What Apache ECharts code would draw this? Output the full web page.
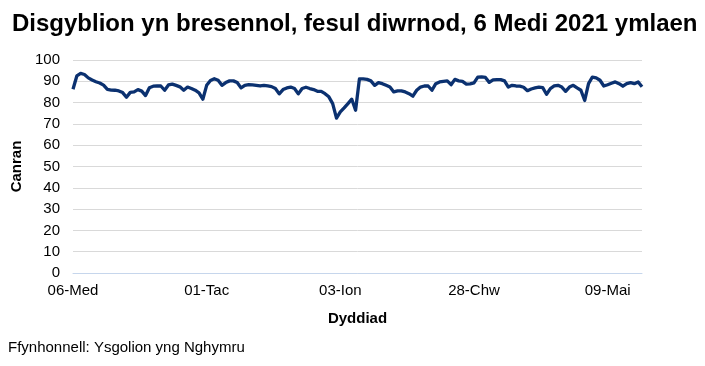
<!DOCTYPE html>
<html>
<head>
<meta charset="utf-8">
<script src="https://cdn.jsdelivr.net/npm/echarts@6/dist/echarts.min.js"></script>
<style>
html,body{margin:0;padding:0;background:#fff;}
#chart{width:705px;height:366px;}
</style>
</head>
<body>
<div id="chart"></div>
<script>
var categories = [
 '06-Med','07-Med','08-Med','09-Med','10-Med',
 '13-Med','14-Med','15-Med','16-Med','17-Med',
 '20-Med','21-Med','22-Med','23-Med','24-Med',
 '27-Med','28-Med','29-Med','30-Med','01-Hyd',
 '04-Hyd','05-Hyd','06-Hyd','07-Hyd','08-Hyd',
 '11-Hyd','12-Hyd','13-Hyd','14-Hyd','15-Hyd',
 '18-Hyd','19-Hyd','20-Hyd','21-Hyd','22-Hyd',
 '01-Tac','02-Tac','03-Tac','04-Tac','05-Tac',
 '08-Tac','09-Tac','10-Tac','11-Tac','12-Tac',
 '15-Tac','16-Tac','17-Tac','18-Tac','19-Tac',
 '22-Tac','23-Tac','24-Tac','25-Tac','26-Tac',
 '29-Tac','30-Tac','01-Rha','02-Rha','03-Rha',
 '06-Rha','07-Rha','08-Rha','09-Rha','10-Rha',
 '13-Rha','14-Rha','15-Rha','16-Rha','17-Rha',
 '03-Ion','04-Ion','05-Ion','06-Ion','07-Ion',
 '10-Ion','11-Ion','12-Ion','13-Ion','14-Ion',
 '17-Ion','18-Ion','19-Ion','20-Ion','21-Ion',
 '24-Ion','25-Ion','26-Ion','27-Ion','28-Ion',
 '31-Ion','01-Chw','02-Chw','03-Chw','04-Chw',
 '07-Chw','08-Chw','09-Chw','10-Chw','11-Chw',
 '14-Chw','15-Chw','16-Chw','17-Chw','18-Chw',
 '28-Chw','01-Maw','02-Maw','03-Maw','04-Maw',
 '07-Maw','08-Maw','09-Maw','10-Maw','11-Maw',
 '14-Maw','15-Maw','16-Maw','17-Maw','18-Maw',
 '21-Maw','22-Maw','23-Maw','24-Maw','25-Maw',
 '28-Maw','29-Maw','30-Maw','31-Maw','01-Ebr',
 '04-Ebr','05-Ebr','06-Ebr','07-Ebr','08-Ebr',
 '25-Ebr','26-Ebr','27-Ebr','28-Ebr','29-Ebr',
 '09-Mai','10-Mai','11-Mai','12-Mai','13-Mai',
 '16-Mai','17-Mai','18-Mai','19-Mai','20-Mai'
];

var attendance = [
 86.3, 92.5, 93.7, 93.2, 91.6,
 90.6, 89.8, 89.2, 88.2, 86.2,
 85.9, 85.8, 85.5, 84.7, 82.5,
 84.8, 85.0, 86.1, 85.4, 83.3,
 87.0, 87.7, 87.8, 87.8, 85.8,
 88.3, 88.7, 88.1, 87.4, 85.8,
 87.3, 86.6, 85.8, 84.6, 81.6,
 88.1, 90.4, 91.2, 90.5, 88.1,
 89.4, 90.2, 90.2, 89.4, 86.9,
 88.1, 88.4, 88.3, 88.1, 87.8,
 88.1, 87.8, 87.5, 86.6, 84.1,
 86.1, 86.9, 87.3, 86.6, 84.1,
 86.6, 87.2, 86.6, 86.1, 85.3,
 85.3, 84.2, 82.7, 79.5, 72.7,
 75.6, 77.5, 79.5, 81.6, 76.4,
 91.1, 91.1, 90.9, 90.2, 88.1,
 89.4, 88.9, 88.1, 87.3, 85.0,
 85.5, 85.5, 85.0, 84.2, 83.0,
 85.8, 87.3, 87.8, 87.8, 85.8,
 88.9, 89.7, 90.0, 90.2, 88.4,
 90.9, 90.2, 90.0, 88.7, 88.8,
 89.3, 92.0, 92.1, 91.8, 89.5,
 90.7, 90.8, 90.8, 90.2, 87.3,
 88.1, 87.8, 87.7, 87.2, 85.6,
 86.4, 86.9, 87.3, 87.0, 83.9,
 86.6, 87.8, 88.1, 87.3, 85.3,
 87.3, 88.1, 86.9, 85.8, 81.0,
 88.9, 92.0, 91.6, 90.5, 87.8,
 88.4, 89.1, 89.7, 88.9, 87.7,
 88.9, 89.4, 88.9, 89.7, 87.4
];

var tickLabels = ['06-Med','01-Tac','03-Ion','28-Chw','09-Mai'];
var yTicks = [0,10,20,30,40,50,60,70,80,90,100];

var FONT = '"Liberation Sans", Arial, sans-serif';
var chart = echarts.init(document.getElementById('chart'), null, {renderer:'canvas'});
chart.setOption({
  animation: false,
  backgroundColor: '#ffffff',
  title: {
    text: 'Disgyblion yn bresennol, fesul diwrnod, 6 Medi 2021 ymlaen',
    left: 7, top: 7,
    textStyle: {fontFamily: FONT, fontSize: 24, fontWeight: 'bold', color: '#000'}
  },
  graphic: [{
    type: 'text', left: 8, top: 340,
    style: {text: 'Ffynhonnell: Ysgolion yng Nghymru', fontFamily: FONT, fontSize: 15, fill: '#000'}
  }],
  grid: {left: 73, right: 63, top: 60, bottom: 93, containLabel: false},
  xAxis: {
    type: 'category',
    data: categories,
    boundaryGap: false,
    name: 'Dyddiad',
    nameLocation: 'middle',
    nameGap: 38,
    nameTextStyle: {fontFamily: FONT, fontSize: 15, fontWeight: 'bold', color: '#000'},
    axisLine: {show: true, lineStyle: {color: '#c6d6ec', width: 1}},
    axisTick: {show: false},
    axisLabel: {
      fontFamily: FONT, fontSize: 15, color: '#000', margin: 10,
      interval: function(i, v){ return tickLabels.indexOf(v) >= 0; }
    },
    splitLine: {show: false}
  },
  yAxis: {
    type: 'value',
    min: yTicks[0], max: yTicks[yTicks.length-1], interval: 10,
    name: 'Canran',
    nameLocation: 'middle',
    nameGap: 49,
    nameTextStyle: {fontFamily: FONT, fontSize: 15, fontWeight: 'bold', color: '#000'},
    axisLine: {show: false},
    axisTick: {show: false},
    axisLabel: {fontFamily: FONT, fontSize: 15, color: '#000', margin: 13},
    splitLine: {lineStyle: {color: '#d9d9d9', width: 1}}
  },
  series: [{
    type: 'line',
    data: attendance,
    showSymbol: false,
    symbol: 'none',
    lineStyle: {color: '#0b3170', width: 3.3, join: 'round'},
    itemStyle: {color: '#0b3170'}
  }]
});
</script>
</body>
</html>
